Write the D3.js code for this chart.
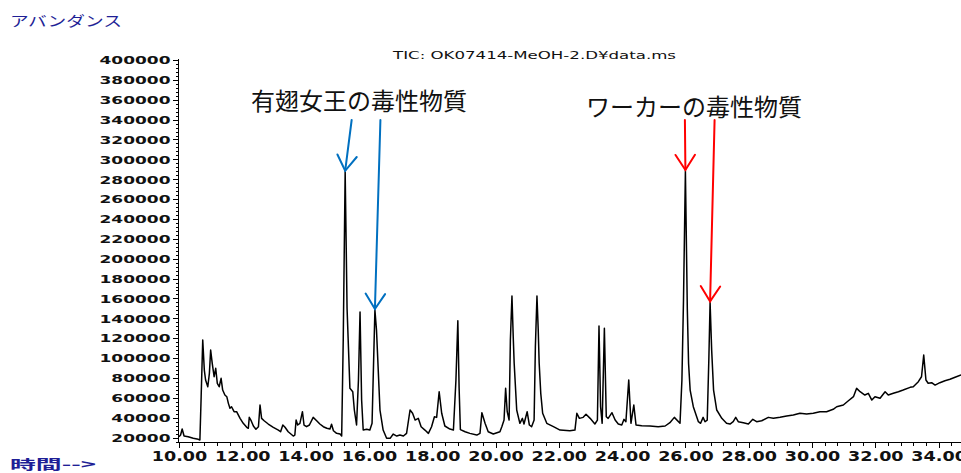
<!DOCTYPE html>
<html>
<head>
<meta charset="utf-8">
<script src="https://cdn.jsdelivr.net/npm/d3@7"></script>
<style>
  html, body { margin: 0; padding: 0; background: #fff; overflow: hidden; }
  svg { display: block; }
</style>
</head>
<body>
<svg id="chart" width="961" height="473"></svg>
<script>
// Total ion chromatogram: retention time (min) and abundance
const retentionTime = [
  10.00, 10.05, 10.10, 10.16, 10.29, 10.45, 10.61, 10.66, 10.70, 10.75,
  10.80, 10.84, 10.91, 10.96, 11.00, 11.05, 11.11, 11.16, 11.21, 11.27,
  11.33, 11.38, 11.45, 11.51, 11.56, 11.61, 11.66, 11.74, 11.82, 11.93,
  12.03, 12.14, 12.19, 12.22, 12.27, 12.35, 12.43, 12.51, 12.56, 12.61,
  12.69, 12.82, 12.98, 13.14, 13.21, 13.28, 13.35, 13.45, 13.61, 13.66,
  13.70, 13.75, 13.82, 13.90, 13.95, 14.03, 14.12, 14.24, 14.35, 14.45,
  14.56, 14.67, 14.77, 14.82, 14.88, 14.98, 15.09, 15.14, 15.19, 15.25,
  15.31, 15.40, 15.49, 15.54, 15.61, 15.67, 15.72, 15.77, 15.82, 15.93,
  16.03, 16.10, 16.15, 16.19, 16.24, 16.35, 16.45, 16.56, 16.67, 16.77,
  16.88, 16.98, 17.09, 17.19, 17.30, 17.38, 17.46, 17.56, 17.65, 17.77,
  17.88, 17.98, 18.07, 18.14, 18.22, 18.30, 18.40, 18.56, 18.67, 18.75,
  18.81, 18.85, 18.89, 19.04, 19.19, 19.41, 19.51, 19.57, 19.67, 19.77,
  19.93, 20.14, 20.20, 20.27, 20.32, 20.37, 20.43, 20.47, 20.52, 20.56,
  20.59, 20.67, 20.77, 20.85, 20.90, 21.00, 21.07, 21.14, 21.22, 21.26,
  21.31, 21.35, 21.38, 21.43, 21.49, 21.62, 21.83, 22.04, 22.35, 22.51,
  22.57, 22.65, 22.77, 22.86, 22.99, 23.14, 23.22, 23.27, 23.32, 23.37,
  23.44, 23.50, 23.56, 23.68, 23.78, 23.88, 23.99, 24.06, 24.12, 24.21,
  24.28, 24.37, 24.44, 24.62, 24.88, 25.14, 25.36, 25.51, 25.65, 25.83,
  25.89, 25.94, 26.00, 26.06, 26.10, 26.15, 26.25, 26.41, 26.48, 26.56,
  26.62, 26.69, 26.74, 26.78, 26.83, 26.89, 26.99, 27.15, 27.30, 27.41,
  27.51, 27.59, 27.67, 27.83, 27.99, 28.13, 28.25, 28.41, 28.62, 28.78,
  28.99, 29.20, 29.41, 29.62, 29.83, 30.04, 30.25, 30.46, 30.67, 30.78,
  30.99, 31.15, 31.31, 31.41, 31.52, 31.67, 31.78, 31.89, 31.99, 32.15,
  32.31, 32.41, 32.57, 32.73, 32.88, 33.10, 33.20, 33.36, 33.46, 33.53,
  33.60, 33.67, 33.78, 33.89, 34.04, 34.20, 34.36, 34.52, 34.71
];
const abundance = [
  20800, 22500, 28600, 21500, 20800, 19200, 18200, 17500, 61100, 118100,
  87900, 77900, 71100, 84600, 108100, 94700, 81200, 89700, 74600, 71100,
  79600, 67800, 62800, 61100, 54400, 49400, 51000, 46000, 46000, 39300,
  34300, 30300, 29300, 40300, 37600, 31600, 28300, 30900, 52700, 39300,
  36900, 33600, 30300, 27500, 25800, 32600, 30300, 25800, 21500, 22500,
  37600, 32600, 34300, 46000, 32600, 30900, 32600, 40300, 36900, 33600,
  30900, 29300, 28600, 33300, 26800, 24200, 23500, 21500, 120000, 287500,
  150000, 69500, 66100, 47700, 32600, 77900, 146300, 57700, 27500, 28300,
  27500, 34300, 98000, 148400, 128200, 47700, 27500, 19200, 19200, 23500,
  21500, 22500, 21500, 24200, 47700, 44400, 37600, 39300, 30900, 27500,
  24200, 30900, 40900, 40300, 66100, 44400, 31600, 28500, 27500, 77900,
  137600, 70000, 28000, 25800, 24200, 22500, 24200, 45000, 34300, 25800,
  23500, 25800, 30900, 37600, 69500, 46000, 37600, 118000, 162400, 121500,
  94700, 47700, 34300, 39300, 33600, 46000, 32600, 30900, 37600, 111400,
  162400, 128200, 94700, 64500, 44400, 34300, 30900, 27500, 26800, 27500,
  44400, 39300, 40300, 43400, 39300, 33600, 37600, 132200, 51000, 34300,
  129900, 40900, 39300, 45000, 37600, 33600, 32600, 38300, 35900, 77900,
  34300, 52700, 32600, 31900, 31600, 30900, 31600, 34900, 40300, 34300,
  77900, 158400, 288300, 150000, 94700, 67800, 51000, 35900, 34300, 40300,
  35900, 37600, 98000, 156000, 108000, 67800, 47700, 39300, 34300, 33600,
  35900, 40300, 35900, 34900, 33600, 38300, 35900, 36900, 40300, 39300,
  40300, 41600, 42600, 44400, 43700, 44400, 46000, 46000, 48400, 51000,
  52700, 57000, 61100, 69500, 66100, 62800, 64500, 57700, 61100, 59500,
  66100, 62800, 64500, 66100, 67800, 70500, 71100, 76200, 81200, 103000,
  77900, 74600, 75200, 72800, 75200, 77200, 78600, 80600, 82900
];

// Axis ticks
const yTickValues = d3.range(20000, 400001, 20000);
const xTickValues = d3.range(10, 34.01, 2);

// Texts
const titleText = "TIC: OK07414-MeOH-2.D¥data.ms";
const yAxisTitle = "アバンダンス";
const xAxisTitle = "時間-->";
const annotationLabels = ["有翅女王の毒性物質", "ワーカーの毒性物質"];

// Peaks pointed out by each annotation (retention times)
const queenPeakTimes = [15.25, 16.19];
const workerPeakTimes = [26.00, 26.78];

const series = retentionTime.map((t, i) => ({ t, v: abundance[i] }));

const svg = d3.select("#chart");

const x = d3.scaleLinear().domain([10, 35]).range([179, 179 + 25 * 31.65]);
const y = d3.scaleLinear().domain([15500, 400000]).range([442, 60]);

// stretch glyphs horizontally to the wide instrument-report lettering
function stretch(sel, factor) {
  sel.each(function () {
    const w = this.getComputedTextLength();
    d3.select(this).attr("textLength", w * factor).attr("lengthAdjust", "spacingAndGlyphs");
  });
}

// ---- Y axis ----
svg.append("g")
  .attr("transform", `translate(${x(10) - 0.5},0)`)
  .call(d3.axisLeft(y).tickValues(d3.range(16000, 400001, 4000)).tickSize(3).tickFormat(""))
  .call(g => g.select(".domain").remove());

const yAxis = svg.append("g")
  .attr("transform", `translate(${x(10) - 0.5},0)`)
  .call(d3.axisLeft(y).tickValues(yTickValues).tickSize(6).tickSizeOuter(0).tickPadding(2)
    .tickFormat(d3.format("d")));
yAxis.select(".domain").attr("d", `M0,${y(400000) - 1}V${y(15500)}`);
yAxis.selectAll("text")
  .attr("font-family", "DejaVu Sans, sans-serif")
  .attr("font-size", 10.5)
  .attr("font-weight", "bold")
  .attr("fill", "#111")
  .attr("dy", "0.36em");
stretch(yAxis.selectAll("text"), 1.62);

// ---- X axis ----
svg.append("g")
  .attr("transform", `translate(0,${y(15500) + 0.5})`)
  .call(d3.axisBottom(x).tickValues(d3.range(10, 35.01, 0.4)).tickSize(3).tickFormat(""))
  .call(g => g.select(".domain").remove());

const xAxis = svg.append("g")
  .attr("transform", `translate(0,${y(15500) + 0.5})`)
  .call(d3.axisBottom(x).tickValues(xTickValues).tickSize(5).tickSizeOuter(0).tickPadding(4)
    .tickFormat(d3.format(".2f")));
xAxis.select(".domain").attr("d", `M${x(10) - 0.5},0H961`);
xAxis.selectAll("text")
  .attr("font-family", "DejaVu Sans, sans-serif")
  .attr("font-size", 13.5)
  .attr("font-weight", "bold")
  .attr("fill", "#111");
stretch(xAxis.selectAll("text"), 1.3);

svg.selectAll(".tick line, .domain").attr("stroke", "#000").attr("shape-rendering", "crispEdges");

// ---- Trace ----
svg.append("path")
  .datum(series)
  .attr("fill", "none")
  .attr("stroke", "#000")
  .attr("stroke-width", 1.5)
  .attr("stroke-linejoin", "round")
  .attr("d", d3.line().x(d => x(d.t)).y(d => y(d.v)));

// ---- Titles ----
svg.append("text")
  .attr("x", 393).attr("y", 59)
  .attr("font-family", "DejaVu Sans, sans-serif")
  .attr("font-size", 11)
  .attr("fill", "#111")
  .attr("textLength", 283).attr("lengthAdjust", "spacingAndGlyphs")
  .text(titleText);

svg.append("text")
  .attr("x", 10).attr("y", 26)
  .attr("font-family", "Noto Sans CJK JP, sans-serif")
  .attr("font-size", 14)
  .attr("fill", "#1f1f96")
  .attr("textLength", 112).attr("lengthAdjust", "spacingAndGlyphs")
  .text(yAxisTitle);

svg.append("text")
  .attr("x", 10).attr("y", 469)
  .attr("font-family", "Noto Sans CJK JP, sans-serif")
  .attr("font-size", 13)
  .attr("font-weight", "bold")
  .attr("fill", "#1f1f96")
  .attr("textLength", 86).attr("lengthAdjust", "spacingAndGlyphs")
  .text(xAxisTitle);

// ---- Annotations ----
const peakValue = t => series.find(d => d.t === t).v;

function arrow(tipT, dx, color) {
  const tx = x(tipT), ty = y(peakValue(tipT)) - 1;
  const sx = tx + dx, sy = 120;
  const ang = Math.atan2(ty - sy, tx - sx);
  const len = 18, spread = Math.PI / 5.5;
  const g = svg.append("g").attr("stroke", color).attr("stroke-width", 2)
    .attr("fill", "none").attr("stroke-linecap", "round");
  g.append("line").attr("x1", sx).attr("y1", sy).attr("x2", tx).attr("y2", ty);
  g.append("path").attr("d",
    `M${tx - len * Math.cos(ang - spread)},${ty - len * Math.sin(ang - spread)}` +
    `L${tx},${ty}` +
    `L${tx - len * Math.cos(ang + spread)},${ty - len * Math.sin(ang + spread)}`);
}

arrow(queenPeakTimes[0], 6.5, "#0070c0");
arrow(queenPeakTimes[1], 5.5, "#0070c0");
arrow(workerPeakTimes[0], -0.5, "#ff0000");
arrow(workerPeakTimes[1], 4.5, "#ff0000");

svg.append("text")
  .attr("x", 251).attr("y", 110)
  .attr("font-family", "Noto Sans CJK JP, sans-serif")
  .attr("font-size", 24)
  .attr("fill", "#111")
  .text(annotationLabels[0]);

svg.append("text")
  .attr("x", 586).attr("y", 116)
  .attr("font-family", "Noto Sans CJK JP, sans-serif")
  .attr("font-size", 24)
  .attr("fill", "#111")
  .text(annotationLabels[1]);
</script>
</body>
</html>
